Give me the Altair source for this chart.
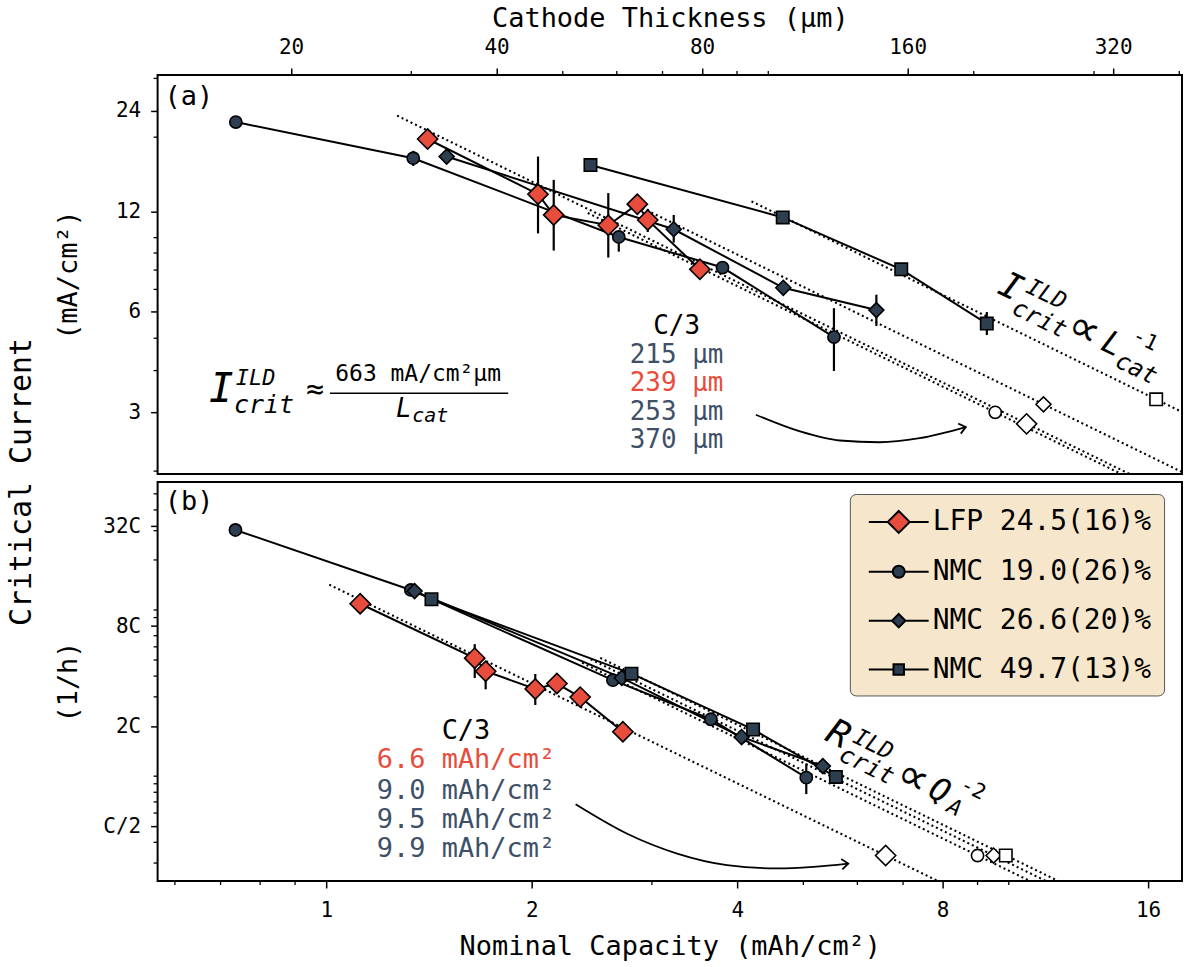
import altair as alt
import pandas as pd

FONT = "DejaVu Sans Mono"
RED = "#E74C3C"
NAVY = "#2C3E50"
NAVY_TXT = "#3E5068"
LEGEND_BG = "#F6E7CC"

SERIES = ["LFP 24.5(16)%", "NMC 19.0(26)%", "NMC 26.6(20)%", "NMC 49.7(13)%"]
SHAPES = ["diamond", "circle", "diamond", "square"]
FILLS = [RED, NAVY, NAVY, NAVY]
SIZES = [410, 150, 225, 155]
LEGEND_SYMBOLS = [
    "M-2,0H-0.733M0,-0.733L0.733,0L0,0.733L-0.733,0ZM0.733,0H2",
    "M-2,0H-0.4M-0.4,0A0.4,0.4,0,1,1,0.4,0A0.4,0.4,0,1,1,-0.4,0ZM0.4,0H2",
    "M-2,0H-0.45M0,-0.45L0.45,0L0,0.45L-0.45,0ZM0.45,0H2",
    "M-2,0H-0.35M-0.35,-0.35H0.35V0.35H-0.35ZM0.35,0H2",
]

# ---------------- panel (a): cathode thickness (um) -> critical current (mA/cm2)
a_lfp_L = [31.7, 46.0, 48.5, 58.3, 64.3, 66.6, 79.4]
a_lfp_I = [19.75, 13.5, 11.7, 10.9, 12.6, 11.3, 8.04]
a_n19_L = [16.6, 30.2, 60.4, 85.7, 124.8]
a_n19_I = [22.2, 17.3, 10.05, 8.14, 5.04]
a_n26_L = [33.8, 72.7, 105.2, 144.0]
a_n26_I = [17.5, 10.6, 7.08, 6.07]
a_n49_L = [54.9, 105.0, 156.6, 209.0]
a_n49_I = [16.5, 11.5, 8.04, 5.53]
a_c3_L = [239, 215, 253, 370]
a_c3_I = [2.77, 3.0, 3.17, 3.28]
a_err_x = [46.0, 48.5, 58.3, 66.6, 16.6, 30.2, 60.4, 124.8, 72.7, 105.2, 144.0, 209.0]
a_err_lo = [10.3, 9.15, 8.72, 10.4, 21.3, 16.4, 9.08, 3.99, 9.67, 6.75, 5.44, 5.11]
a_err_hi = [17.5, 14.9, 13.6, 12.2, 23.0, 18.2, 10.4, 6.15, 11.7, 7.35, 6.75, 5.99]
a_fit_x0 = [28.6, 54.4, 65.4, 94.5]
a_fit_y0 = [23.2, 11.86, 12.26, 12.85]
a_fit_x1 = [420, 420, 420, 420]
a_fit_y1 = [1.579, 1.536, 1.910, 2.890]
a_arrow_L = [95.9, 111.3, 127.3, 145.6, 166.6, 194.7]
a_arrow_I = [2.95, 2.63, 2.47, 2.44, 2.51, 2.71]
a_minor_x = [30, 50, 60, 70, 90, 100, 200, 300, 400]
a_minor_y = [2, 4, 5, 7, 8, 9, 10, 20, 30]
a_c3_labels = ["C/3", "215 µm", "239 µm", "253 µm", "370 µm"]
a_c3_label_I = [5.44, 4.44, 3.67, 3.0, 2.48]

# ---------------- panel (b): nominal capacity (mAh/cm2) -> critical rate (1/h)
b_lfp_Q = [1.121, 1.650, 1.712, 2.024, 2.177, 2.355, 2.72]
b_lfp_R = [10.9, 5.13, 4.28, 3.35, 3.61, 2.99, 1.85]
b_n19_Q = [0.736, 1.33, 2.63, 3.66, 5.05]
b_n19_R = [30.3, 13.2, 3.78, 2.20, 0.98]
b_n26_Q = [1.347, 2.71, 4.06, 5.34]
b_n26_R = [13.0, 3.90, 1.72, 1.15]
b_n49_Q = [1.426, 2.80, 4.22, 5.58]
b_n49_R = [11.6, 4.14, 1.91, 0.99]
b_c3_Q = [6.6, 9.0, 9.5, 9.9]
b_c3_R = [0.333, 0.333, 0.333, 0.333]
b_err_x = [1.650, 1.712, 2.024, 2.355, 5.05]
b_err_lo = [3.90, 3.33, 2.68, 2.62, 0.78]
b_err_hi = [6.23, 4.65, 4.12, 3.35, 1.19]
b_fit_x0 = [1.01, 2.37, 2.44, 2.52]
b_fit_y0 = [14.2, 4.81, 5.05, 5.15]
b_fit_x1 = [18.5, 18.5, 18.5, 18.5]
b_fit_y1 = [0.0424, 0.0789, 0.0879, 0.0955]
b_arrow_Q = [2.319, 2.760, 3.266, 3.864, 4.572, 5.171, 5.818]
b_arrow_R = [0.677, 0.450, 0.342, 0.2915, 0.2785, 0.2848, 0.298]
b_minor_x = [0.6, 0.7, 0.8, 0.9, 3, 5, 6, 7, 9, 10]
b_minor_y = [0.3, 0.4, 0.6, 0.7, 0.8, 0.9, 1, 3, 4, 5, 6, 7, 9, 10, 20, 30, 40, 50]
b_c3_labels = ["C/3", "6.6 mAh/cm²", "9.0 mAh/cm²", "9.5 mAh/cm²", "9.9 mAh/cm²"]
b_c3_label_R = [1.86, 1.245, 0.812, 0.545, 0.365]

C3_COLORS = ["black", NAVY_TXT, RED, NAVY_TXT, NAVY_TXT]
B_C3_COLORS = ["black", RED, NAVY_TXT, NAVY_TXT, NAVY_TXT]


def series_table(xs, ys, open_marker=False):
    rows = []
    for i, (xv, yv) in enumerate(zip(xs, ys)):
        for a, b in zip(xv, yv):
            rows.append({"series": SERIES[i], "x": a, "y": b, "shape": SHAPES[i],
                         "fill": "white" if open_marker else FILLS[i], "size": SIZES[i]})
    return pd.DataFrame(rows)


def txt(X, Y, t, x, y, size, color="black", align="center", baseline="middle", angle=0, italic=False,
        font=FONT):
    df = pd.DataFrame({"x": [x], "y": [y], "t": [t]})
    kw = dict(fontSize=size, color=color, align=align, baseline=baseline, font=font)
    if angle:
        kw["angle"] = angle
    if italic:
        kw["fontStyle"] = "italic"
    return alt.Chart(df).mark_text(**kw).encode(x=X, y=Y, text="t:N")


def common_layers(X, Y, pts, c3, errdf, fitdf, arrowdf, head_angle, minor_x, minor_y, xtick_at_top):
    layers = []
    if xtick_at_top:
        mx = alt.Chart(pd.DataFrame({"x": minor_x})).mark_rule(color="black", strokeWidth=1.3).encode(
            x=X, y=alt.value(0), y2=alt.value(-4))
    else:
        mx = alt.Chart(pd.DataFrame({"x": minor_x})).mark_rule(color="black", strokeWidth=1.3).encode(
            x=X, y=alt.value(400), y2=alt.value(404))
    my = alt.Chart(pd.DataFrame({"y": minor_y})).mark_rule(color="black", strokeWidth=1.3).encode(
        y=Y, x=alt.value(0), x2=alt.value(-4))
    layers += [mx, my]
    layers.append(alt.Chart(fitdf).mark_line(color="black", strokeWidth=2.1, strokeDash=[2, 3], clip=True)
                  .encode(x=X, y=Y, detail="fit:N"))
    layers.append(alt.Chart(errdf).mark_rule(color="black", strokeWidth=2.2).encode(x=X, y=Y, y2=alt.Y2("y2")))
    layers.append(alt.Chart(pts).mark_line(color="black", strokeWidth=2).encode(x=X, y=Y, detail="series:N"))
    for df in (pts, c3):
        layers.append(alt.Chart(df).mark_point(filled=True, opacity=1, stroke="black", strokeWidth=1.6).encode(
            x=X, y=Y,
            shape=alt.Shape("shape:N", scale=None),
            fill=alt.Fill("fill:N", scale=None),
            size=alt.Size("size:Q", scale=None)))
    layers.append(alt.Chart(arrowdf).mark_line(color="black", strokeWidth=1.8, interpolate="monotone").encode(
        x=X, y=Y, order="o:Q"))
    head = arrowdf.tail(1)
    layers.append(alt.Chart(head).mark_point(shape="M-1,-0.8L0,0L-1,0.8", filled=False, opacity=1,
                                             stroke="black", strokeWidth=1.8, size=170, angle=head_angle)
                  .encode(x=X, y=Y))
    return layers


def fit_table(x0, y0, x1, y1):
    rows = []
    for i in range(len(x0)):
        rows.append({"fit": i, "x": x0[i], "y": y0[i]})
        rows.append({"fit": i, "x": x1[i], "y": y1[i]})
    return pd.DataFrame(rows)


# ---------------- panel (a)
Xa = alt.X("x:Q", scale=alt.Scale(type="log", domain=[12.75, 403.7], nice=False),
           axis=alt.Axis(orient="top", values=[20, 40, 80, 160, 320], format="d",
                         title="Cathode Thickness (µm)", tickSize=7, labelPadding=11, titlePadding=4))
Ya = alt.Y("y:Q", scale=alt.Scale(type="log", domain=[1.96, 30.7], nice=False),
           axis=alt.Axis(values=[3, 6, 12, 24], format="d", title="(mA/cm²)",
                         tickSize=7, labelPadding=10, titlePadding=33))

a_pts = series_table([a_lfp_L, a_n19_L, a_n26_L, a_n49_L], [a_lfp_I, a_n19_I, a_n26_I, a_n49_I])
a_c3 = series_table([[v] for v in a_c3_L], [[v] for v in a_c3_I], open_marker=True)
a_err = pd.DataFrame({"x": a_err_x, "y": a_err_lo, "y2": a_err_hi})
a_fit = fit_table(a_fit_x0, a_fit_y0, a_fit_x1, a_fit_y1)
a_arrow = pd.DataFrame({"x": a_arrow_L, "y": a_arrow_I, "o": list(range(len(a_arrow_L)))})

a_layers = common_layers(Xa, Ya, a_pts, a_c3, a_err, a_fit, a_arrow, 346, a_minor_x, a_minor_y, True)
a_layers.append(alt.Chart(pd.DataFrame({"x": [22.8], "x2": [41.6], "y": [3.42]}))
                .mark_rule(color="black", strokeWidth=1.5).encode(x=Xa, x2=alt.X2("x2"), y=Ya))
a_layers += [
    txt(Xa, Ya, "(a)", 13.05, 26.3, 27, align="left"),
    txt(Xa, Ya, "I", 15.8, 3.22, 41, baseline="alphabetic", italic=True),
    txt(Xa, Ya, "ILD", 16.6, 3.62, 22, align="left", baseline="alphabetic", italic=True),
    txt(Xa, Ya, "crit", 16.5, 2.98, 25, align="left", baseline="alphabetic", italic=True),
    txt(Xa, Ya, "≈", 21.7, 3.51, 30),
    txt(Xa, Ya, "663 mA/cm²µm", 30.7, 3.72, 23, baseline="alphabetic"),
    txt(Xa, Ya, "L", 28.5, 2.90, 26, align="left", baseline="alphabetic", italic=True),
    txt(Xa, Ya, "cat", 30.1, 2.81, 20, align="left", baseline="alphabetic", italic=True),
    txt(Xa, Ya, "I", 226.3, 7.10, 36, angle=26, italic=True),
    txt(Xa, Ya, "ILD", 255.4, 6.76, 23, angle=26, italic=True),
    txt(Xa, Ya, "crit", 249.5, 5.69, 24, angle=26, italic=True),
    txt(Xa, Ya, "∝", 290.2, 5.31, 44, angle=26, font="DejaVu Sans"),
    txt(Xa, Ya, "L", 319.0, 4.80, 32, angle=26, italic=True),
    txt(Xa, Ya, "-1", 356.4, 4.93, 21, angle=26),
    txt(Xa, Ya, "cat", 345.8, 4.04, 24, angle=26, italic=True),
]
for lab, yv, col in zip(a_c3_labels, a_c3_label_I, C3_COLORS):
    a_layers.append(txt(Xa, Ya, lab, 73.4, yv, 26, color=col))

top = alt.layer(*a_layers).properties(width=1027, height=400)

# ---------------- panel (b)
Xb = alt.X("x:Q", scale=alt.Scale(type="log", domain=[0.566, 17.94], nice=False),
           axis=alt.Axis(values=[1, 2, 4, 8, 16], format="d", title="Nominal Capacity (mAh/cm²)",
                         tickSize=7, labelPadding=12, titlePadding=13))
Yb = alt.Y("y:Q", scale=alt.Scale(type="log", domain=[0.234, 58.9], nice=False),
           axis=alt.Axis(values=[0.5, 2, 8, 32], labelExpr="datum.value < 1 ? 'C/2' : datum.value + 'C'",
                         title="(1/h)", tickSize=7, labelPadding=10, titlePadding=20))

b_pts = series_table([b_lfp_Q, b_n19_Q, b_n26_Q, b_n49_Q], [b_lfp_R, b_n19_R, b_n26_R, b_n49_R])
b_c3 = series_table([[v] for v in b_c3_Q], [[v] for v in b_c3_R], open_marker=True)
b_err = pd.DataFrame({"x": b_err_x, "y": b_err_lo, "y2": b_err_hi})
b_fit = fit_table(b_fit_x0, b_fit_y0, b_fit_x1, b_fit_y1)
b_arrow = pd.DataFrame({"x": b_arrow_Q, "y": b_arrow_R, "o": list(range(len(b_arrow_Q)))})

b_layers = common_layers(Xb, Yb, b_pts, b_c3, b_err, b_fit, b_arrow, 354, b_minor_x, b_minor_y, False)
b_layers += [
    txt(Xb, Yb, "(b)", 0.58, 44.6, 27, align="left"),
    txt(Xb, Yb, "R", 5.625, 1.777, 36, angle=26, italic=True),
    txt(Xb, Yb, "ILD", 6.328, 1.548, 23, angle=26, italic=True),
    txt(Xb, Yb, "crit", 6.188, 1.149, 24, angle=26, italic=True),
    txt(Xb, Yb, "∝", 7.240, 0.978, 44, angle=26, font="DejaVu Sans"),
    txt(Xb, Yb, "Q", 7.919, 0.813, 32, angle=26, italic=True),
    txt(Xb, Yb, "A", 8.330, 0.646, 22, angle=26, italic=True),
    txt(Xb, Yb, "-2", 8.858, 0.833, 21, angle=26),
]
for lab, yv, col in zip(b_c3_labels, b_c3_label_R, B_C3_COLORS):
    b_layers.append(txt(Xb, Yb, lab, 1.602, yv, 27, color=col))

# legend is placed in the concat's frame: panel (b) starts 400 + spacing below panel (a)
legend_props = dict(orient="none", legendX=694, legendY=420, title=None,
                    fillColor=LEGEND_BG, strokeColor="#555555", cornerRadius=6, padding=12,
                    labelFont=FONT, labelFontSize=28, labelColor="black", labelOffset=18, labelLimit=0,
                    symbolSize=900, symbolOffset=21, symbolStrokeWidth=2, symbolStrokeColor="black",
                    symbolOpacity=1, rowPadding=19)
legend_df = pd.DataFrame({"series": SERIES, "x": [1.0] * 4, "y": [1.0] * 4})
b_layers.append(
    alt.Chart(legend_df).transform_filter("false").mark_point(filled=True, opacity=1).encode(
        x=Xb, y=Yb,
        shape=alt.Shape("series:N", scale=alt.Scale(domain=SERIES, range=LEGEND_SYMBOLS),
                        legend=alt.Legend(**legend_props)),
        fill=alt.Fill("series:N", scale=alt.Scale(domain=SERIES, range=FILLS),
                      legend=alt.Legend(**legend_props)),
    ))

bottom = alt.layer(*b_layers).properties(width=1027, height=400)

chart = alt.vconcat(top, bottom, spacing=6).properties(
    title=alt.TitleParams("Critical Current", orient="left", anchor="middle", fontSize=30,
                          font=FONT, fontWeight="normal", offset=17),
    padding={"left": 6, "top": 2, "right": 3, "bottom": 5},
).configure(font=FONT).configure_view(stroke="black", strokeWidth=2).configure_axis(
    labelFont=FONT, titleFont=FONT, labelFontSize=21, titleFontSize=27, titleFontWeight="normal",
    labelColor="black", titleColor="black", tickColor="black", tickWidth=1.5, grid=False, domain=False
).configure_title(font=FONT, fontWeight="normal")

chart.save("out.html", embed_options={"renderer": "svg", "actions": False})
